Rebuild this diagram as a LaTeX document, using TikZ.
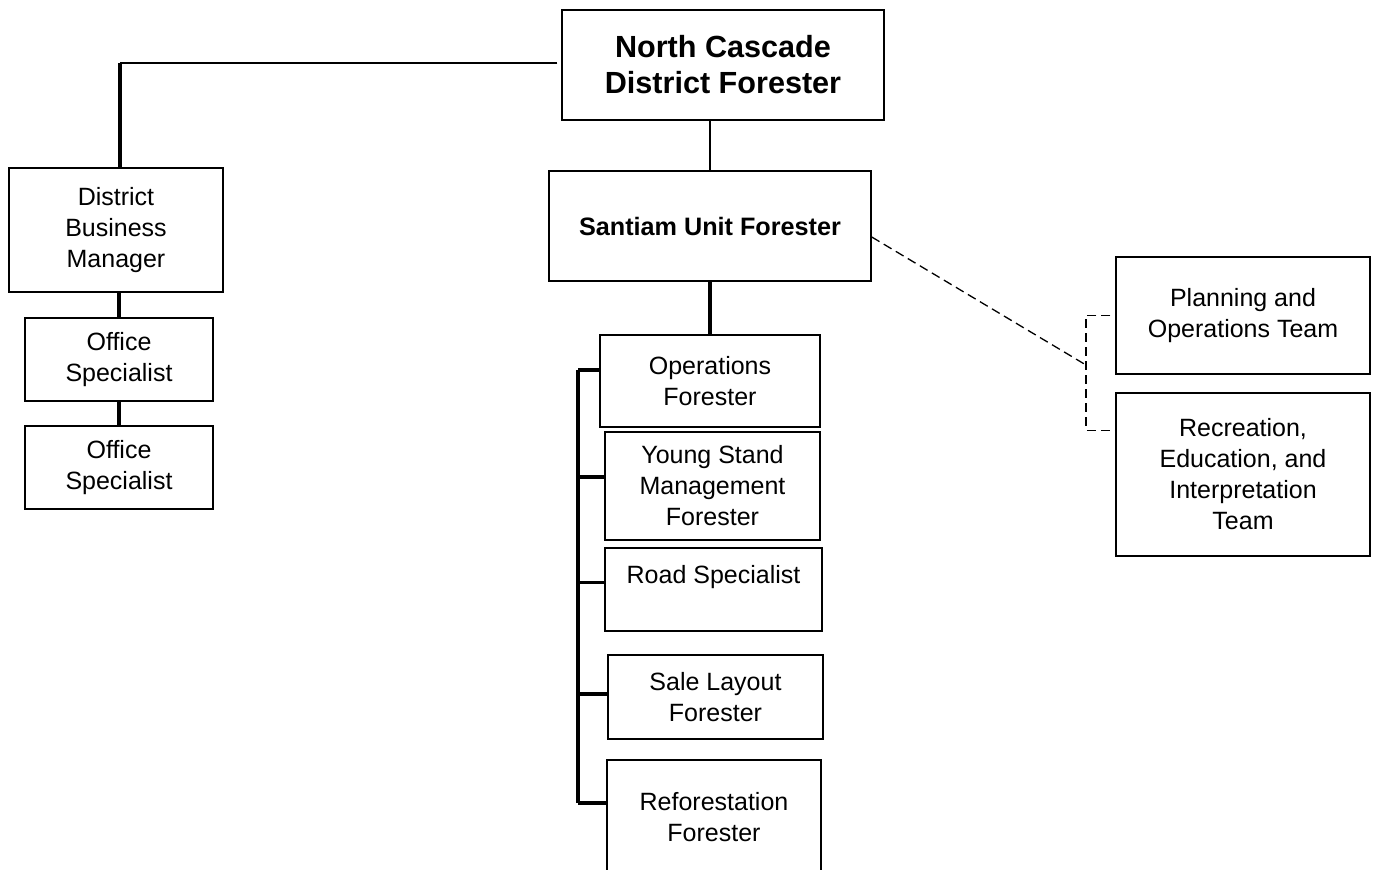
\documentclass[tikz,border=0pt]{standalone}
\usepackage{fontspec}
\setmainfont{Liberation Sans}
\begin{document}
\begin{tikzpicture}[x=0.5pt, y=-0.5pt,
		box/.style={draw, line width=0.75pt, align=center, inner sep=0pt, font=\fontsize{12.5}{15.5}\selectfont},
		head/.style={box, font=\fontsize{15.3}{18}\selectfont\bfseries},
		link/.style={line width=0.75pt},
		trunk/.style={line width=1.7pt},
		dotlink/.style={line width=0.65pt, dash pattern=on 4.5pt off 2.5pt}]
		\useasboundingbox (0,0) rectangle (1380,869);
		\clip (0,0) rectangle (1380,869);
		% district level
		\node[head, minimum width=161pt, minimum height=55pt] (ncdf) at (723,65) {North Cascade\\District Forester};
		\node[box, minimum width=107pt, minimum height=62pt] (dbm) at (116,230) {District\\Business\\Manager};
		\node[box, minimum width=94pt, minimum height=41.5pt] (os1) at (119,359.5) {Office\\Specialist};
		\node[box, minimum width=94pt, minimum height=41.5pt] (os2) at (119,467.5) {Office\\Specialist};
		% unit level
		\node[box, font=\fontsize{12.6}{15.5}\selectfont\bfseries, minimum width=161pt, minimum height=55pt] (suf) at (710,226) {Santiam Unit Forester};
		\node[box, minimum width=110pt, minimum height=46pt] (of) at (710,381) {Operations\\Forester};
		\node[box, minimum width=107.5pt, minimum height=54pt] (ysm) at (712.5,486) {Young Stand\\Management\\Forester};
		\node[box, minimum width=108.5pt, minimum height=41.5pt] (rs) at (713.5,589.5) {Road Specialist\\\mbox{}};
		\node[box, minimum width=107.5pt, minimum height=42pt] (slf) at (715.5,697) {Sale Layout\\Forester};
		\node[box, minimum width=107pt, minimum height=57pt] (rf) at (714,817) {Reforestation\\Forester};
		% teams
		\node[box, minimum width=127pt, minimum height=58.5pt] (pot) at (1243,315.5) {Planning and\\Operations Team};
		\node[box, minimum width=127pt, minimum height=81.5pt] (reit) at (1243,474.5) {Recreation,\\Education, and\\Interpretation\\Team};
		% connectors
		\coordinate (elbow) at ([xshift=2pt]dbm.north |- ncdf.west);
		\draw[link] ([xshift=-2pt,yshift=1pt]ncdf.west) -- ([yshift=1pt]elbow);
		\draw[trunk] ([yshift=1pt]elbow) -- (elbow |- dbm.north);
		\draw[trunk] (os1.north |- dbm.south) -- (os1.north);
		\draw[trunk] (os1.south) -- (os2.north);
		\draw[link] (suf.north) -- (suf.north |- ncdf.south);
		\draw[trunk] (suf.south) -- (of.north);
		\coordinate (spine) at (578,370);
		\draw[trunk] ([yshift=5.5pt]of.west -| spine) -- ([yshift=7pt]rf.west -| spine);
		\foreach \n/\dy in {of/5.5, ysm/4.5, rs/3.5, slf/1.5, rf/7}
			\draw[trunk] ([yshift=\dy pt]\n.west -| spine) -- ([yshift=\dy pt]\n.west);
		\coordinate (dj) at (1086,365);
		\draw[dotlink] ([yshift=-5.5pt]suf.east) -- (dj);
		\draw[dotlink] ([xshift=-2.5pt]pot.west) -| (dj) |- ([yshift=22pt]reit.west);
\end{tikzpicture}
\end{document}
